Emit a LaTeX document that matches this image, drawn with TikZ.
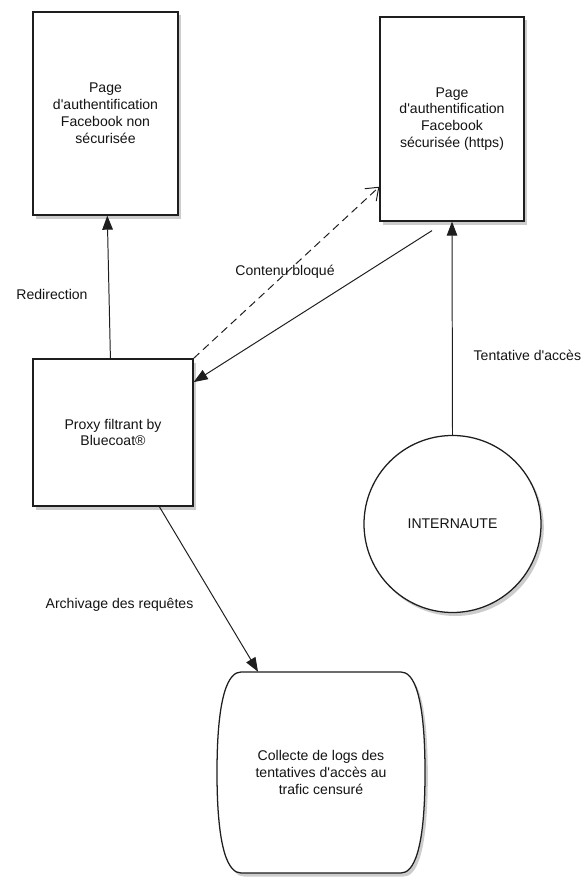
\documentclass[tikz,border=0pt]{standalone}
\usepackage{fontspec}
\setmainfont{Liberation Sans}
\usepackage{xcolor}
\usepackage{tikz}
\usetikzlibrary{calc,positioning,arrows.meta,shadows,backgrounds}
\definecolor{inkline}{RGB}{30,30,30}
\definecolor{inktext}{RGB}{20,20,20}
\newcommand{\apos}{\textquotesingle}

\begin{document}
\begin{tikzpicture}[
  pagebox/.style={rectangle, draw=inkline, fill=white, line width=0.9pt,
    align=center, font=\normalsize\color{inktext}, inner sep=0pt,
    drop shadow={shadow xshift=2pt, shadow yshift=-2.5pt, opacity=0.4}},
  userdisk/.style={circle, draw=inkline, fill=white, line width=0.9pt,
    font=\normalsize\color{inktext}, inner sep=0pt, minimum size=4.425cm,
    drop shadow={shadow xshift=2pt, shadow yshift=-2.5pt, opacity=0.4}},
  barrel/.style={draw=inkline, fill=white, line width=0.9pt,
    drop shadow={shadow xshift=2pt, shadow yshift=-2.5pt, opacity=0.4}},
  lbl/.style={font=\normalsize\color{inktext}, inner sep=1pt},
  flow/.style={-{Triangle[length=10pt, width=7.5pt]}, inkline, line width=0.7pt},
  blocked/.style={-{Straight Barb[length=8pt, width=12pt]}, inkline,
    line width=0.7pt, dash pattern=on 5.5pt off 3.5pt},
]
  \useasboundingbox (0,0) rectangle (14.625,21.95);

  % Pages Facebook
  \node[pagebox, minimum width=3.625cm, minimum height=5.075cm] (nonsec)
    at (2.6375,19.1125) {Page\\d\apos authentification\\Facebook non\\sécurisée};
  \node[pagebox, minimum width=3.6cm, minimum height=5.1cm] (sec)
    at (11.3,18.975) {Page\\d\apos authentification\\Facebook\\sécurisée (https)};

  % Proxy and user
  \node[pagebox, minimum width=4cm, minimum height=3.675cm] (proxy)
    at (2.825,11.1375) {Proxy filtrant by\\Bluecoat®};
  \node[userdisk] (user) at (11.3125,8.85) {INTERNAUTE};

  % Log store (barrel outline behind the text)
  \node[align=center, font=\normalsize\color{inktext}, inner sep=0pt,
    minimum width=5.2cm, minimum height=5.025cm] (logs)
    at (8.025,2.6375) {Collecte de logs des\\tentatives d\apos accès au\\trafic censuré};
  \begin{pgfonlayer}{background}
    \draw[barrel, shift={(logs.center)}]
      (-2,2.5125) -- (2,2.5125)
      .. controls (2.3,2.5125) and (2.6,2) .. (2.6,0)
      .. controls (2.6,-2) and (2.3,-2.5125) .. (2,-2.5125)
      -- (-2,-2.5125)
      .. controls (-2.3,-2.5125) and (-2.6,-2) .. (-2.6,0)
      .. controls (-2.6,2) and (-2.3,2.5125) .. cycle;
  \end{pgfonlayer}

  % Connectors
  \coordinate (secout) at ([shift={(-0.5,-0.225)}]sec.south);
  \draw[flow] (proxy.92.3) -- (nonsec.-89.2);
  \draw[blocked] (proxy.north east) -- (sec.223);
  \draw[flow] (secout) -- (proxy.32.6);
  \draw[flow] (user.north) -- (sec.south);
  \draw[flow] (proxy.-58.5) -- (logs.122.1);

  % Labels
  \node[lbl] (redir) at (1.3,14.6) {Redirection};
  \node[lbl] (bloque) at (7.125,15.15) {Contenu bloqué};
  \node[lbl, anchor=west] (tentative) at (11.8,13.075) {Tentative d\apos accès};
  \node[lbl] (archive) at (2.9875,6.825) {Archivage des requêtes};
\end{tikzpicture}
\end{document}
